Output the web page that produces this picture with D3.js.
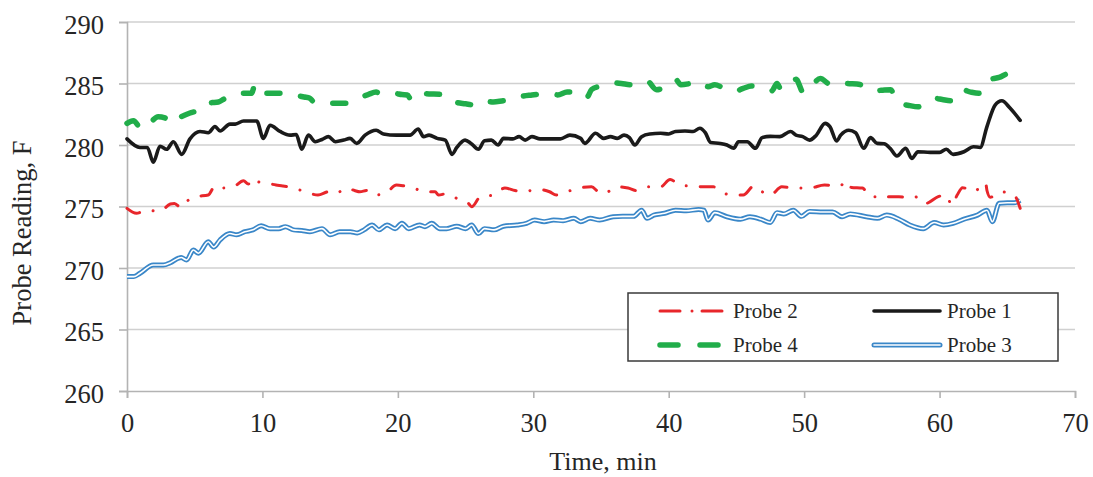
<!DOCTYPE html>
<html><head><meta charset="utf-8">
<script src="https://cdn.jsdelivr.net/npm/d3@7"></script>
<style>
html,body{margin:0;padding:0;background:#fff;}
svg{display:block;font-family:"Liberation Serif","Times New Roman",serif;}
</style></head>
<body><svg id="chart" width="1093" height="477"></svg>
<script>
// ---- data (time in min, reading in F) ----
const xTicks = [0,10,20,30,40,50,60,70];
const yTicks = [260,265,270,275,280,285,290];
const seriesNames = ["Probe 2","Probe 1","Probe 4","Probe 3"];

const probe1 = [[0,280.5],[0.96,279.8],[1.5,279.8],[1.94,278.6],[2.44,279.9],[2.93,279.65],[3.42,280.27],[4.04,279.24],[4.65,280.5],[5.39,281.1],[6.0,281.0],[6.5,281.5],[6.87,281.14],[7.6,281.7],[8.0,281.7],[8.6,281.95],[9.58,281.95],[10.07,280.54],[10.56,281.6],[11.3,281.1],[12.04,280.8],[12.5,280.85],[12.9,279.65],[13.4,280.8],[13.9,280.27],[14.4,280.45],[14.87,280.68],[15.4,280.27],[16.0,280.4],[16.47,280.54],[16.96,280.13],[17.58,280.8],[18.4,281.2],[18.93,280.9],[19.9,280.8],[20.9,280.8],[21.5,281.3],[21.9,280.67],[22.3,280.8],[22.9,280.54],[23.5,280.4],[24.0,279.24],[24.35,279.8],[24.96,280.4],[25.4,280.13],[25.95,279.65],[26.4,280.35],[26.9,280.4],[27.4,280.0],[27.8,280.54],[28.5,280.5],[28.95,280.68],[29.4,280.4],[29.9,280.68],[30.5,280.5],[31.2,280.5],[32.0,280.5],[32.7,280.8],[33.5,280.54],[33.8,280.13],[34.6,280.95],[35.2,280.54],[35.7,280.68],[36.2,280.54],[36.7,280.8],[37.1,280.6],[37.5,280.0],[38.0,280.68],[38.6,280.9],[39.4,280.95],[40.0,280.9],[40.5,281.1],[41.2,281.14],[41.8,281.1],[42.3,281.36],[42.7,281.0],[43.1,280.2],[43.8,280.13],[44.3,280.0],[44.8,279.73],[45.15,280.27],[45.8,280.27],[46.4,279.73],[46.9,280.6],[47.5,280.7],[48.2,280.68],[49.0,281.1],[49.4,280.8],[49.9,280.68],[50.4,280.4],[50.9,280.8],[51.55,281.76],[51.9,281.5],[52.4,280.33],[52.7,280.8],[53.3,281.2],[53.8,281.0],[54.4,279.73],[54.9,280.6],[55.4,280.13],[55.9,280.1],[56.35,279.73],[56.85,279.1],[57.5,279.73],[57.95,278.9],[58.4,279.45],[59.3,279.4],[60.0,279.4],[60.5,279.65],[61.0,279.24],[61.8,279.45],[62.5,279.86],[63.0,279.8],[63.5,281.5],[64.1,283.25],[64.6,283.6],[65.2,283.0],[65.95,282.0]];

const probe2 = [[0,274.85],[0.7,274.45],[1.45,274.7],[2.4,274.6],[3.2,275.2],[3.5,275.25],[4.0,274.9],[4.4,275.4],[5.1,275.8],[6.0,275.93],[6.5,276.67],[6.9,276.5],[7.85,276.6],[8.6,277.1],[8.96,276.83],[9.45,277.3],[9.7,277.0],[10.3,276.9],[11.0,276.75],[11.5,276.67],[12.3,276.5],[13.15,276.2],[14.1,275.93],[14.9,276.2],[15.4,276.05],[16.2,276.5],[16.8,276.3],[17.2,276.2],[17.7,276.3],[18.2,275.93],[19.05,276.05],[19.9,276.75],[20.5,276.67],[21.1,276.55],[21.9,276.2],[22.75,276.2],[23.0,275.93],[23.6,276.05],[24.6,275.5],[25.2,275.26],[25.45,274.98],[26.1,275.8],[27.05,275.93],[27.9,276.5],[28.65,276.3],[29.3,276.2],[30.3,276.4],[31.2,276.2],[31.7,275.93],[32.5,276.2],[33.3,276.5],[34.3,276.6],[34.8,276.2],[35.2,276.05],[36.2,276.6],[37.0,276.5],[37.6,276.3],[38.4,276.6],[39.4,276.6],[40.1,277.2],[40.8,276.75],[41.4,276.67],[42.4,276.6],[43.3,276.6],[44.0,276.12],[44.7,275.93],[45.5,275.93],[46.3,276.67],[46.9,276.2],[47.5,275.93],[48.35,276.6],[49.3,276.5],[50.4,276.5],[51.5,276.75],[52.7,276.67],[53.0,277.1],[53.5,276.55],[54.3,276.5],[54.9,275.8],[55.4,275.8],[55.9,275.93],[56.2,275.8],[57.0,275.8],[57.95,275.66],[58.4,275.8],[59.0,275.26],[59.9,275.8],[60.5,275.93],[60.9,275.1],[61.3,275.93],[61.7,276.53],[62.6,276.2],[62.9,276.5],[63.4,276.93],[63.5,276.3],[63.75,275.75],[64.5,276.2],[65.5,275.93],[65.95,274.85]];

const probe3 = [[0,269.3],[0.5,269.3],[0.96,269.57],[1.94,270.24],[2.68,270.24],[3.2,270.43],[3.8,270.8],[4.0,270.85],[4.4,270.65],[4.9,271.46],[5.27,271.2],[6.0,272.14],[6.4,271.7],[6.87,272.28],[7.6,272.8],[8.1,272.7],[8.7,272.95],[9.3,273.1],[9.9,273.44],[10.56,273.2],[11.2,273.2],[11.7,273.36],[12.3,273.1],[12.9,273.05],[13.5,272.95],[14.4,273.2],[15.0,272.7],[15.7,272.95],[16.5,272.95],[17.0,272.85],[17.5,273.1],[18.1,273.5],[18.6,273.1],[19.2,273.5],[19.8,273.2],[20.3,273.63],[20.8,273.2],[21.6,273.5],[22.0,273.36],[22.5,273.63],[23.1,273.2],[23.6,273.2],[24.35,273.4],[25.0,273.2],[25.45,273.5],[25.95,272.8],[26.4,273.2],[27.1,273.1],[27.8,273.4],[28.8,273.5],[29.5,273.63],[30.1,273.9],[30.8,273.77],[31.5,273.9],[32.2,273.85],[33.0,274.04],[33.5,273.77],[34.2,274.04],[34.9,273.9],[35.9,274.17],[36.6,274.2],[37.4,274.2],[38.0,274.7],[38.4,274.04],[38.9,274.3],[39.7,274.45],[40.5,274.7],[41.3,274.65],[42.2,274.76],[42.6,274.7],[42.9,273.9],[43.4,274.5],[44.3,274.17],[45.3,273.97],[46.0,274.17],[46.8,273.97],[47.5,273.7],[48.0,274.5],[48.5,274.4],[49.2,274.7],[49.8,274.2],[50.4,274.6],[51.4,274.55],[52.1,274.55],[52.8,274.17],[53.4,274.4],[54.6,274.17],[55.4,274.04],[56.1,274.3],[57.0,273.97],[57.8,273.5],[58.8,273.2],[59.6,273.7],[60.3,273.5],[61.0,273.63],[61.8,273.97],[62.8,274.3],[63.5,274.7],[63.9,273.77],[64.4,275.26],[65.0,275.3],[65.5,275.3],[65.95,275.5]];

const probe4 = [[0,281.76],[0.47,281.98],[1.08,281.3],[1.7,281.8],[2.3,282.3],[2.8,282.2],[3.2,281.76],[3.4,282.0],[4.0,282.3],[4.65,282.6],[5.27,282.85],[5.76,283.4],[6.3,283.45],[6.75,283.5],[7.1,283.7],[7.98,284.15],[8.6,284.2],[9.2,284.2],[9.45,284.9],[9.9,284.2],[10.6,284.2],[11.3,284.2],[11.8,284.0],[12.5,284.0],[13.1,283.9],[13.5,283.8],[13.8,283.5],[14.5,283.4],[15.3,283.4],[16.2,283.4],[16.7,283.5],[17.3,283.9],[17.8,284.1],[18.4,284.3],[18.9,284.07],[19.7,284.2],[20.3,284.1],[20.7,284.07],[21.0,283.66],[21.6,284.2],[22.3,284.15],[23.1,284.12],[23.9,283.9],[24.2,283.5],[25.0,283.35],[25.7,283.25],[26.3,283.6],[27.05,283.5],[27.8,283.6],[28.5,283.66],[28.95,283.9],[29.9,284.07],[30.7,284.15],[31.4,284.2],[31.8,284.07],[32.5,284.3],[33.6,284.3],[33.97,283.9],[34.3,284.5],[35.0,284.8],[35.8,285.07],[36.5,285.0],[37.2,284.9],[37.8,285.0],[38.4,285.2],[39.1,284.5],[40.0,284.9],[40.5,285.34],[40.9,284.9],[41.6,285.0],[42.3,285.15],[42.9,284.74],[43.4,284.9],[44.1,284.6],[44.8,284.33],[45.5,284.6],[46.1,284.8],[46.9,284.6],[47.6,284.4],[48.0,285.0],[48.3,284.5],[48.9,285.0],[49.4,285.34],[49.95,284.25],[50.6,284.9],[51.2,285.4],[51.9,284.96],[52.4,285.15],[53.2,285.0],[53.9,284.96],[54.4,284.8],[55.0,284.4],[55.7,284.45],[56.4,284.5],[56.7,283.8],[57.1,283.4],[57.8,283.2],[58.4,283.1],[59.0,283.4],[59.6,283.8],[60.2,283.7],[60.8,283.6],[61.65,284.5],[62.3,284.3],[62.9,284.2],[63.7,285.3],[64.4,285.5],[65.1,285.8],[65.7,284.6]];

// ---- layout ----
const svg = d3.select("#chart");
const L = 127, R = 1075, T = 22, B = 391;
const x = d3.scaleLinear().domain([0,70]).range([L,R]);
const y = d3.scaleLinear().domain([260,290]).range([B,T]);

const gridColor = "#d0d0d0", axisColor = "#b3b3b3", textColor = "#262626";
const serif = "'Liberation Serif','Times New Roman',serif";

// gridlines
svg.append("g").selectAll("line").data(yTicks.filter(v=>v>260)).join("line")
  .attr("x1",L).attr("x2",R).attr("y1",d=>y(d)).attr("y2",d=>y(d))
  .attr("stroke",gridColor).attr("stroke-width",1.6);

// axes
const yAxis = svg.append("g").attr("transform",`translate(${L},0)`)
  .call(d3.axisLeft(y).tickValues(yTicks).tickSize(8).tickPadding(15));
const xAxis = svg.append("g").attr("transform",`translate(0,${B})`)
  .call(d3.axisBottom(x).tickValues(xTicks).tickSize(7).tickPadding(15));
[yAxis,xAxis].forEach(g=>{
  g.select(".domain").attr("stroke",axisColor).attr("stroke-width",1.6);
  g.selectAll(".tick line").attr("stroke",axisColor).attr("stroke-width",1.6);
  g.selectAll(".tick text").attr("fill",textColor).style("font-size","26.5px")
   .style("font-family",serif);
});
yAxis.selectAll(".tick text").attr("dy","0.42em");

// titles
svg.append("text").attr("x",(L+R)/2 + 2).attr("y",470).attr("text-anchor","middle")
  .attr("fill",textColor).style("font-size","26px").text("Time, min");
svg.append("text").attr("transform","translate(31,233) rotate(-90)").attr("text-anchor","middle")
  .attr("fill",textColor).style("font-size","26.5px").text("Probe Reading, F");

// lines
const line = d3.line().x(d=>x(d[0])).y(d=>y(d[1])).curve(d3.curveMonotoneX);
const styles = {
  p2:{stroke:"#e8262b", w:3, dash:"14,14,0.01,14", cap:"round"},
  p1:{stroke:"#1a1a1a", w:3.6, dash:null, cap:"round"},
  p4:{stroke:"#21ad4a", w:5.5, dash:"13,21", cap:"round"},
  p3:{stroke:"#3a87c8", w:5, inner:1.6}
};
function drawSeries(data, s){
  const p = svg.append("path").datum(data).attr("d",line).attr("fill","none")
    .attr("stroke",s.stroke).attr("stroke-width",s.w)
    .attr("stroke-linecap",s.cap||"butt").attr("stroke-linejoin","round");
  if(s.dash) p.attr("stroke-dasharray",s.dash);
  if(s.inner) svg.append("path").datum(data).attr("d",line).attr("fill","none")
    .attr("stroke","#fff").attr("stroke-width",s.inner).attr("stroke-linejoin","round");
}
drawSeries(probe3, styles.p3);
drawSeries(probe2, styles.p2);
drawSeries(probe1, styles.p1);
drawSeries(probe4, styles.p4);

// legend
const lg = svg.append("g");
lg.append("rect").attr("x",628).attr("y",293).attr("width",430).attr("height",68)
  .attr("fill","#fff").attr("stroke","#3a3a3a").attr("stroke-width",1.5);
const legendItems = [
  {name:seriesNames[0], s:styles.p2, x:660, y:311},
  {name:seriesNames[1], s:styles.p1, x:874, y:311},
  {name:seriesNames[2], s:styles.p4, x:660, y:345},
  {name:seriesNames[3], s:styles.p3, x:874, y:345}
];
legendItems.forEach(it=>{
  const seg = [[0,0],[1,0]];
  const ln = d3.line().x(d=>it.x + d[0]*(it.s===styles.p4?58:66)).y(()=>it.y);
  const p = lg.append("path").datum(seg).attr("d",ln).attr("fill","none")
    .attr("stroke",it.s.stroke).attr("stroke-width",it.s.w)
    .attr("stroke-linecap",it.s.cap||"round");
  if(it.s.dash) p.attr("stroke-dasharray",it.s===styles.p4?"18,22":"20,12,0.01,10");
  if(it.s.inner) lg.append("path").datum(seg).attr("d",ln).attr("fill","none")
    .attr("stroke","#fff").attr("stroke-width",it.s.inner).attr("stroke-linecap","round");
  lg.append("text").attr("x",it.x + 73).attr("y",it.y).attr("dy","0.35em")
    .attr("fill",textColor).style("font-size","21px").text(it.name);
});
</script></body></html>
